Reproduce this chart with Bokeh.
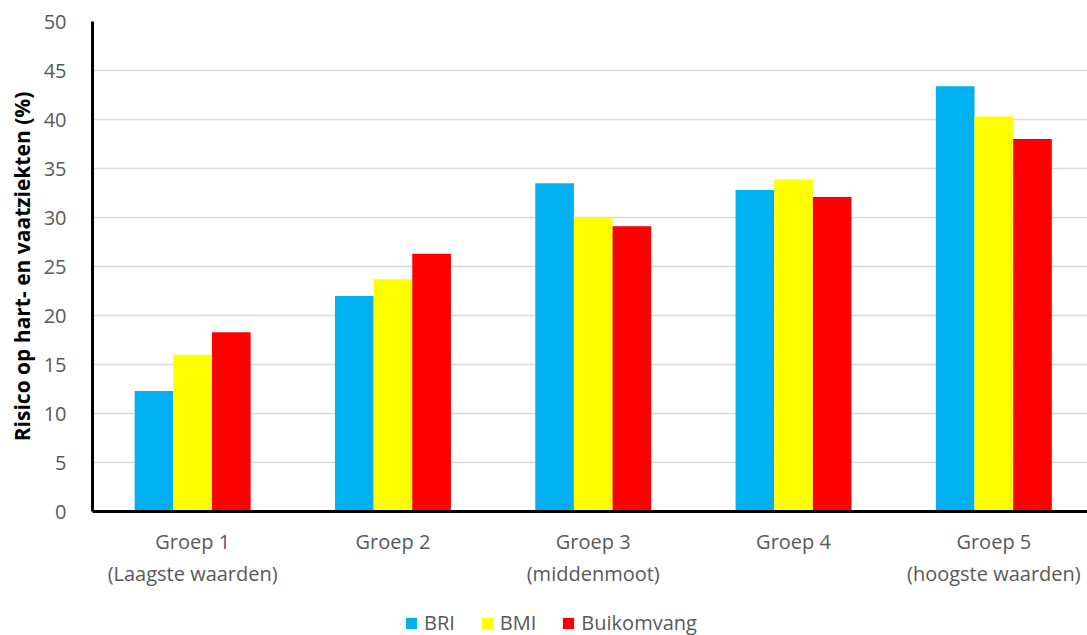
from bokeh.plotting import figure
from bokeh.models import ColumnDataSource, Range1d, FixedTicker, Legend, LegendItem
from bokeh.layouts import column
from bokeh.embed import file_html
from bokeh.resources import INLINE

groups = ["Groep 1\n(Laagste waarden)", "Groep 2", "Groep 3\n(middenmoot)", "Groep 4", "Groep 5\n(hoogste waarden)"]
series = ["BRI", "BMI", "Buikomvang"]
bri = [12.3, 22.0, 33.5, 32.8, 43.4]
bmi = [16.0, 23.7, 30.0, 33.9, 40.3]
buik = [18.3, 26.3, 29.1, 32.1, 38.0]
colors = ["#00B0F0", "#FFFF00", "#FF0000"]
y_ticks = [0, 5, 10, 15, 20, 25, 30, 35, 40, 45, 50]

FONT = "Open Sans"
GREY = "#595959"

p = figure(width=1087, height=600, output_backend="svg", toolbar_location=None,
           x_range=Range1d(-0.5, 4.4676), y_range=Range1d(0, 50),
           min_border_left=92, min_border_right=0, min_border_top=21, min_border_bottom=89)
p.outline_line_color = None
p.background_fill_color = "white"
p.border_fill_color = "white"

xs = list(range(len(groups)))
src = ColumnDataSource(dict(x=xs, bri=bri, bmi=bmi, buik=buik))
w = 0.193
for i, (col, c) in enumerate(zip(["bri", "bmi", "buik"], colors)):
    off = (i - 1) * w
    p.vbar(x=[x + off for x in xs], top=src.data[col], width=w, fill_color=c, line_color=None)

p.xgrid.visible = False
p.ygrid.grid_line_color = "#D9D9D9"
p.ygrid.grid_line_width = 1.5
p.ygrid.ticker = FixedTicker(ticks=y_ticks)

p.yaxis.ticker = FixedTicker(ticks=y_ticks)
p.yaxis.axis_line_color = "black"
p.yaxis.axis_line_width = 3
p.yaxis.major_tick_line_color = None
p.yaxis.minor_tick_line_color = None
p.yaxis.major_label_standoff = 20
p.yaxis.major_label_text_font = FONT
p.yaxis.major_label_text_font_size = "20px"
p.yaxis.major_label_text_color = GREY
p.yaxis.axis_label = "Risico op hart- en vaatziekten (%)"
p.yaxis.axis_label_text_font = FONT
p.yaxis.axis_label_text_font_size = "21px"
p.yaxis.axis_label_text_font_style = "bold"
p.yaxis.axis_label_text_color = "black"
p.yaxis.axis_label_standoff = 5

p.xaxis.ticker = FixedTicker(ticks=xs)
p.xaxis.major_label_overrides = {i: g for i, g in enumerate(groups)}
p.xaxis.axis_line_color = "black"
p.xaxis.axis_line_width = 3
p.xaxis.major_tick_line_color = None
p.xaxis.minor_tick_line_color = None
p.xaxis.major_label_standoff = 10
p.xaxis.major_label_text_font = FONT
p.xaxis.major_label_text_font_size = "20px"
p.xaxis.major_label_text_color = GREY

# legend in a separate strip below the chart
lg = figure(width=1087, height=35, output_backend="svg", toolbar_location=None,
            x_range=Range1d(0, 1), y_range=Range1d(0, 1),
            min_border_left=92, min_border_right=0, min_border_top=0, min_border_bottom=0)
lg.outline_line_color = None
lg.axis.visible = False
lg.grid.visible = False
lrs = [lg.vbar(x=[5], top=[0.5], width=0.1, fill_color=c, line_color=None) for c in colors]
legend = Legend(items=[LegendItem(label=s, renderers=[r]) for s, r in zip(series, lrs)],
                orientation="horizontal", location=(312, -1))
legend.glyph_width = 14
legend.glyph_height = 14
legend.label_standoff = 6
legend.spacing = 25
legend.label_text_font = FONT
legend.label_text_font_size = "20px"
legend.label_text_color = GREY
legend.border_line_color = None
legend.background_fill_alpha = 0
legend.padding = 0
legend.margin = 0
lg.add_layout(legend, "center")

layout = column(p, lg, spacing=0)
open("out.html", "w").write(file_html(layout, INLINE))
